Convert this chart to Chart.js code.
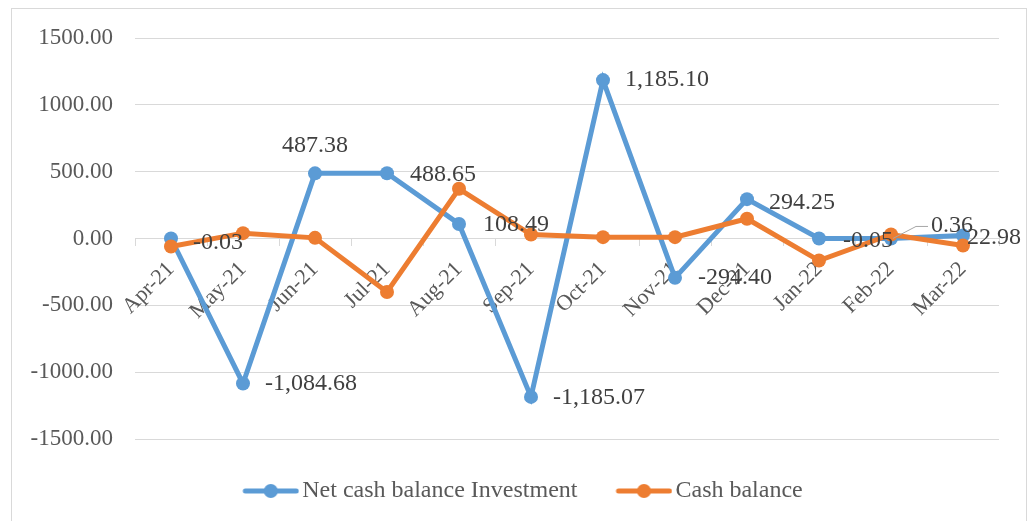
<!DOCTYPE html>
<html>
<head>
<meta charset="utf-8">
<script src="https://cdn.jsdelivr.net/npm/chart.js@4.4.1/dist/chart.umd.min.js"></script>
<style>
  body { margin: 0; background: #fff; }
  #box { position: absolute; left: 11px; top: 8px; width: 1014px; height: 520px; border: 1px solid #d9d9d9; background: #fff; }
  canvas { display: block; }
</style>
</head>
<body>
<div id="box"><canvas id="grafico" width="1014" height="513"></canvas></div>
<script>
const meses = ["Apr-21", "May-21", "Jun-21", "Jul-21", "Aug-21", "Sep-21", "Oct-21", "Nov-21", "Dec-21", "Jan-22", "Feb-22", "Mar-22"];
const investimento = [-0.03, -1084.68, 487.38, 488.65, 108.49, -1185.07, 1185.10, -294.40, 294.25, -0.05, 0.36, 22.98];
const saldoCaixa = [-60, 40, 5, -400, 372, 30, 10, 10, 148, -165, 30, -52];
const rotulos = ["-0.03", "-1,084.68", "487.38", "488.65", "108.49", "-1,185.07", "1,185.10", "-294.40", "294.25", "-0.05", "0.36", "22.98"];

// deslocamento dos rótulos em relação ao ponto [dx, dy, alinhamento]
const posRotulos = [
  [22, 4, "left"], [22, 0, "left"], [0, -28, "center"], [23, 2, "left"],
  [24, 1, "left"], [22, 1, "left"], [22, 0, "left"], [23, 0, "left"],
  [22, 4, "left"], [24, 2, "left"], [40, -13, "left"], [4, 2, "left"]
];

const AZUL = "#5B9BD5";
const LARANJA = "#ED7D31";
const FONTE = "'Liberation Serif', 'Times New Roman', serif";

// marcador da legenda: linha com bolinha (7px transparentes à esquerda)
const marcador = (cor) => {
  const c = document.createElement("canvas");
  c.width = 64;
  c.height = 16;
  const g = c.getContext("2d");
  g.strokeStyle = cor;
  g.lineWidth = 5;
  g.lineCap = "round";
  g.beginPath();
  g.moveTo(10, 8);
  g.lineTo(61, 8);
  g.stroke();
  g.fillStyle = cor;
  g.beginPath();
  g.arc(35.5, 8, 7, 0, Math.PI * 2);
  g.fill();
  return c;
};
const marcadores = [marcador(AZUL), marcador(LARANJA)];

const rotulosPlugin = {
  id: "rotulos",
  afterLayout(chart) {
    if (chart.legend) {
      chart.legend.left += 18;
      chart.legend.right += 18;
    }
  },
  afterDatasetsDraw(chart) {
    const ctx = chart.ctx;
    const meta = chart.getDatasetMeta(0);
    ctx.save();
    ctx.font = "24px " + FONTE;
    ctx.fillStyle = "#404040";
    ctx.textBaseline = "middle";
    meta.data.forEach((pt, i) => {
      const [dx, dy, al] = posRotulos[i];
      ctx.textAlign = al;
      if (i === 10) {
        ctx.strokeStyle = "#a6a6a6";
        ctx.lineWidth = 1;
        ctx.beginPath();
        ctx.moveTo(pt.x + 2, pt.y);
        ctx.lineTo(pt.x + 25, pt.y + dy + 1);
        ctx.lineTo(pt.x + dx - 3, pt.y + dy + 1);
        ctx.stroke();
      }
      ctx.fillText(rotulos[i], pt.x + dx, pt.y + dy);
    });
    ctx.restore();
  }
};

document.addEventListener("DOMContentLoaded", () => {
  const ctx = document.getElementById("grafico").getContext("2d");

  new Chart(ctx, {
    type: "line",
    data: {
      labels: meses,
      datasets: [
        {
          label: "Net cash balance Investment",
          data: investimento,
          borderColor: AZUL,
          backgroundColor: AZUL,
          borderWidth: 5,
          pointRadius: 7,
          pointHoverRadius: 7,
          pointBorderWidth: 0,
          order: 1
        },
        {
          label: "Cash balance",
          data: saldoCaixa,
          borderColor: LARANJA,
          backgroundColor: LARANJA,
          borderWidth: 5,
          pointRadius: 7,
          pointHoverRadius: 7,
          pointBorderWidth: 0,
          order: 0
        }
      ]
    },
    options: {
      responsive: false,
      animation: false,
      layout: { padding: { left: 0, right: 27, top: 29, bottom: 9 } },
      scales: {
        x: {
          type: "category",
          offset: true,
          position: { y: 0 },
          grid: {
            offset: true,
            drawOnChartArea: false,
            color: "#d9d9d9",
            tickLength: 7
          },
          border: { color: "#d9d9d9" },
          ticks: {
            minRotation: 45,
            maxRotation: 45,
            autoSkip: false,
            padding: 11,
            color: "#595959",
            font: { family: FONTE, size: 22 }
          }
        },
        y: {
          min: -1500,
          max: 1500,
          afterFit(scale) { scale.width = 123; },
          grid: { color: "#d9d9d9", drawTicks: true, tickLength: 22, tickColor: "rgba(0,0,0,0)" },
          border: { display: false },
          ticks: {
            stepSize: 500,
            padding: 0,
            color: "#595959",
            font: { family: FONTE, size: 23 },
            callback: (v) => v.toFixed(2)
          }
        }
      },
      plugins: {
        tooltip: { enabled: false },
        legend: {
          position: "bottom",
          labels: {
            usePointStyle: true,
            pointStyleWidth: 46,
            padding: 40,
            color: "#595959",
            font: { family: FONTE, size: 24 },
            generateLabels(chart) {
              const itens = Chart.defaults.plugins.legend.labels.generateLabels(chart);
              itens.sort((a, b) => a.datasetIndex - b.datasetIndex);
              itens.forEach((it) => { it.pointStyle = marcadores[it.datasetIndex]; });
              return itens;
            }
          }
        }
      }
    },
    plugins: [rotulosPlugin]
  });
});
</script>
</body>
</html>
